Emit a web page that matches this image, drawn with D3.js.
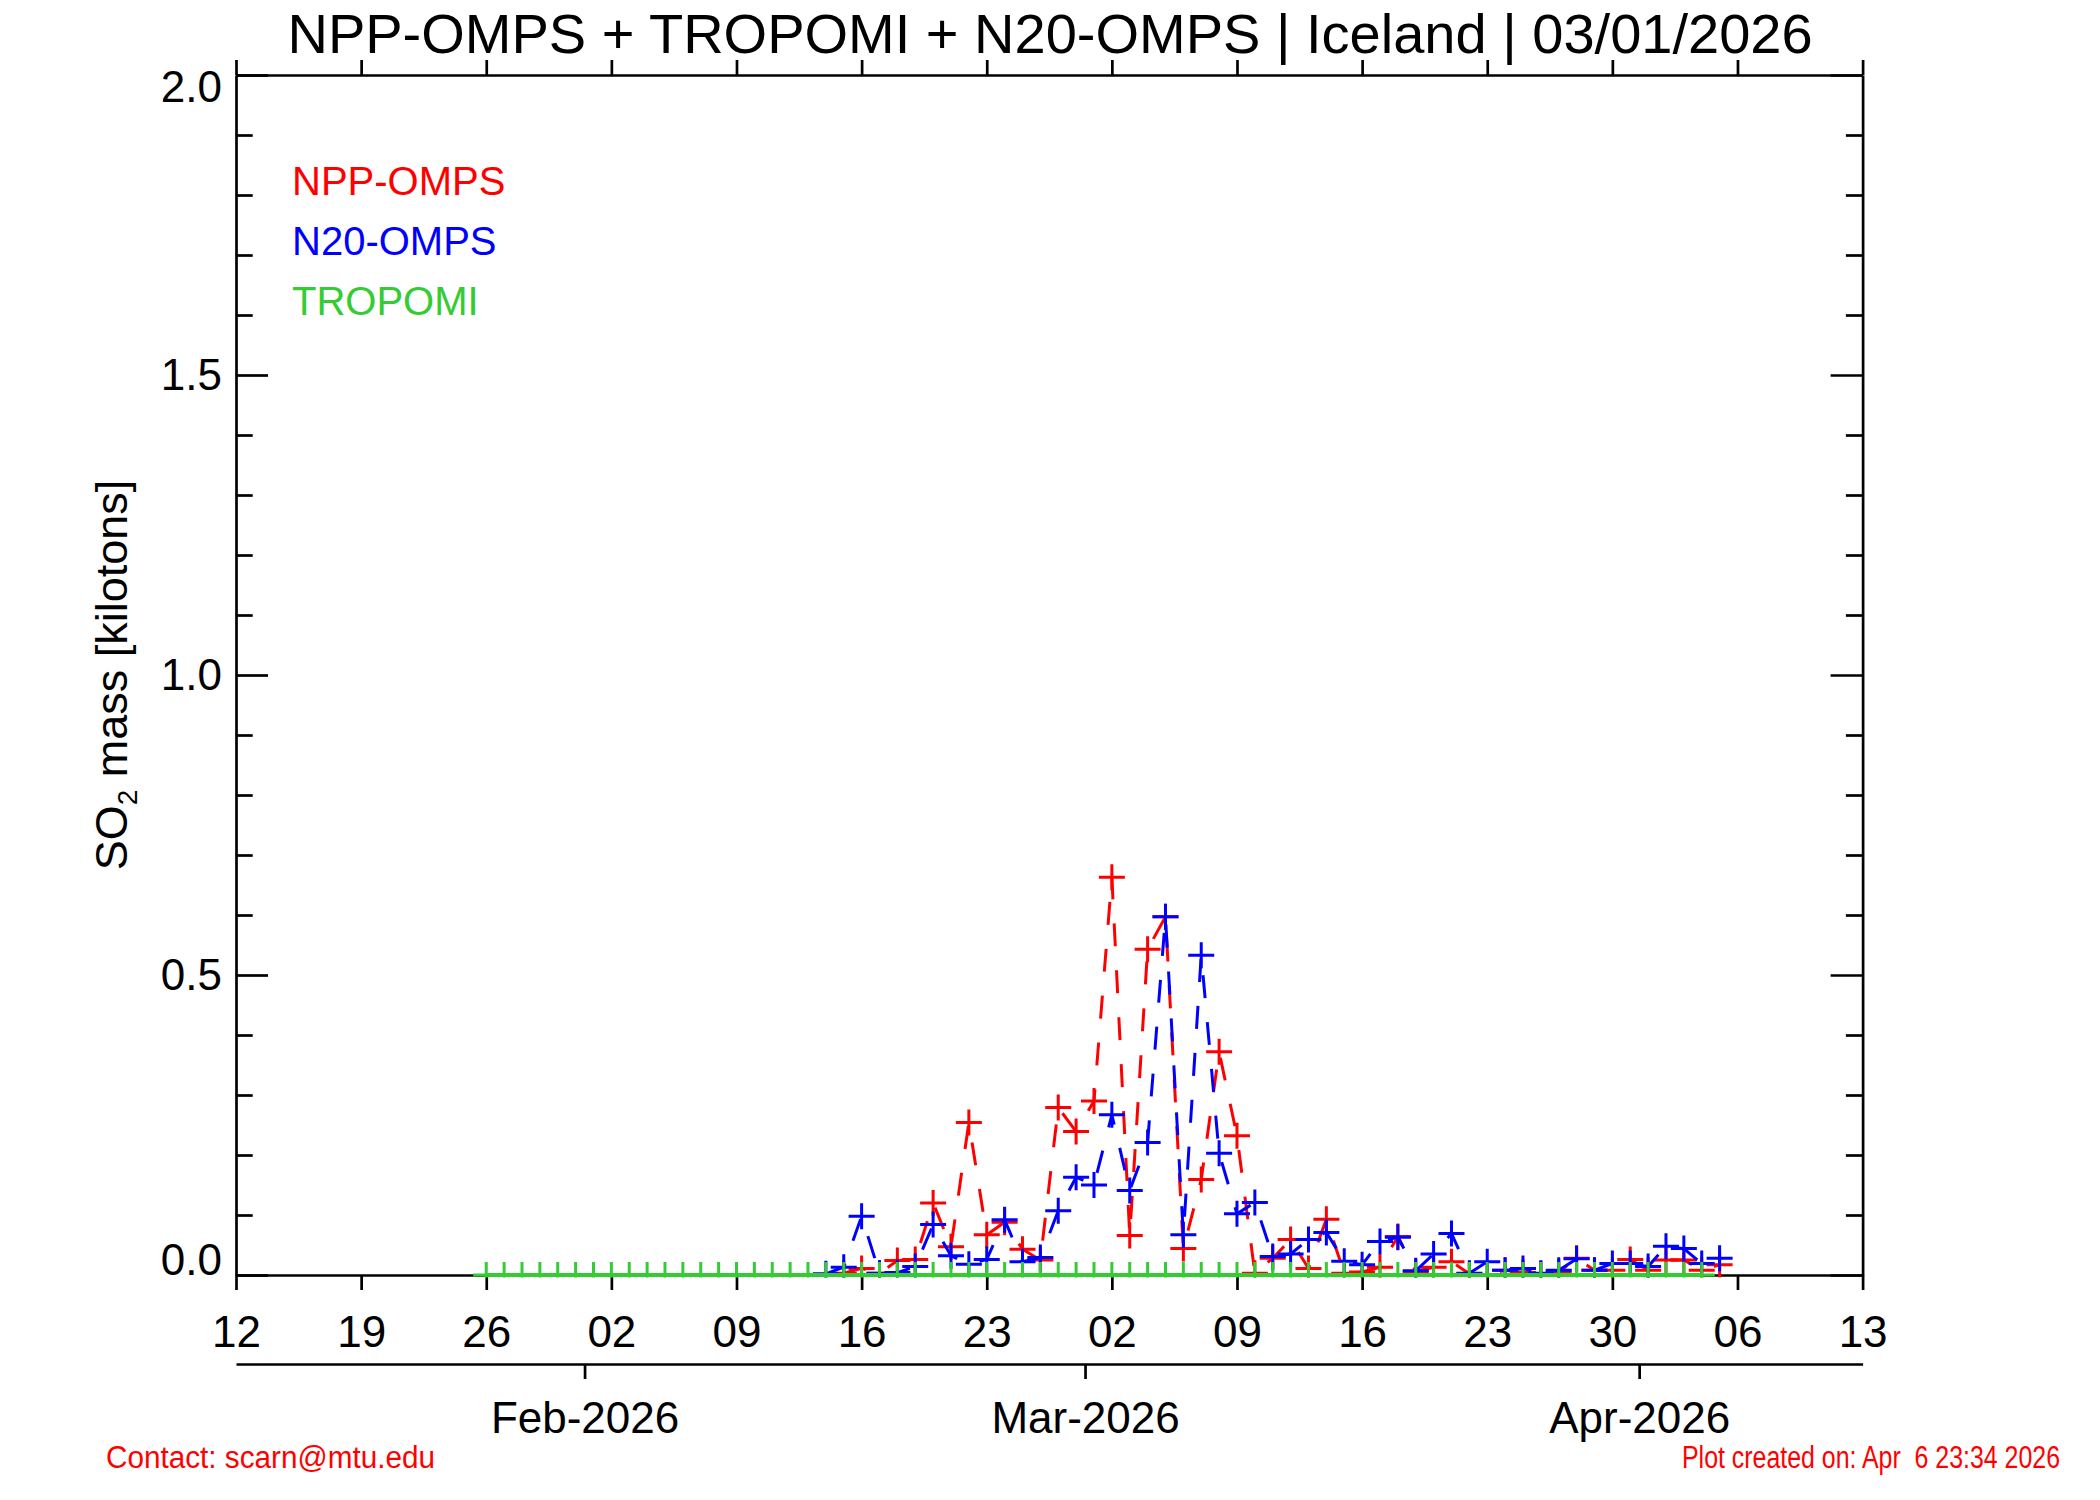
<!DOCTYPE html>
<html>
<head>
<meta charset="utf-8">
<script src="https://cdn.jsdelivr.net/npm/d3@7"></script>
<style>
  html, body { margin: 0; padding: 0; background: #ffffff; }
  svg { display: block; }
</style>
</head>
<body>
<script>
// ---------------- DATA ----------------
const titleText = "NPP-OMPS + TROPOMI + N20-OMPS | Iceland | 03/01/2026";
const yLabelMain = "SO";
const yLabelSub = "2";
const yLabelRest = " mass [kilotons]";
const contactText = "Contact: scarn@mtu.edu";
const createdText = "Plot created on: Apr\u00a0\u00a06 23:34 2026";

const xDomain = ["2026-01-12", "2026-04-13"];
const yDomain = [0, 2.0];
const yMajorTicks = [0.0, 0.5, 1.0, 1.5, 2.0];
const yMinorTicks = [0.1, 0.2, 0.3, 0.4, 0.6, 0.7, 0.8, 0.9, 1.1, 1.2, 1.3, 1.4, 1.6, 1.7, 1.8, 1.9];

const seriesNames = ["NPP-OMPS", "N20-OMPS", "TROPOMI"];
const seriesColors = ["#ff0000", "#0000ff", "#33cc33"];

// NPP-OMPS daily values starting 2026-02-15
const nppStart = "2026-02-15";
const nppValues = [
  0.003, 0.011, 0.003, 0.024, 0.026, 0.120, 0.047, 0.254, 0.067, 0.088, 0.043, 0.025, 0.279, 0.239,
  0.290, 0.663, 0.066, 0.543, 0.597, 0.044, 0.159, 0.372, 0.232, 0.003, 0.028, 0.059, 0.011, 0.093,
  0.003, 0.005, 0.013, 0.064, 0.006, 0.013, 0.022, 0.002, 0.000, 0.008, 0.004, 0.002, 0.005, 0.028,
  0.008, 0.008, 0.026,
  0.008, 0.025, 0.025, 0.008, 0.017
];

// N20-OMPS daily values starting 2026-02-14
const n20Start = "2026-02-14";
const n20Values = [
  0.002, 0.013, 0.098, 0.003, 0.004, 0.014, 0.084, 0.032, 0.018, 0.026, 0.092, 0.022, 0.029, 0.107, 0.163,
  0.150, 0.267, 0.141, 0.221, 0.597, 0.067, 0.533, 0.203, 0.102, 0.121, 0.031, 0.035, 0.059, 0.071,
  0.023, 0.017, 0.056, 0.063, 0.007, 0.035, 0.069, 0.003, 0.022, 0.008, 0.011, 0.003, 0.008, 0.027,
  0.008, 0.019, 0.019,
  0.014, 0.048, 0.044, 0.019, 0.028
];

// TROPOMI daily values starting 2026-01-26
const tropomiStart = "2026-01-26";
const tropomiValues = [
  0, 0, 0, 0, 0, 0, 0, 0, 0, 0, 0, 0, 0, 0, 0, 0, 0, 0, 0, 0,
  0, 0, 0, 0, 0, 0, 0, 0, 0, 0, 0, 0, 0, 0, 0, 0, 0, 0, 0, 0,
  0, 0, 0, 0, 0, 0, 0, 0, 0, 0, 0, 0, 0, 0, 0, 0, 0, 0, 0, 0,
  0, 0, 0, 0, 0, 0, 0, 0, 0
];

// ---------------- CHART ----------------
const W = 2100, H = 1500;
const plot = { left: 236, right: 1862.6, top: 75, bottom: 1275 };
const FONT = "'Liberation Sans', Arial, Helvetica, sans-serif";
const AXW = 2.7;

const parse = d3.utcParse("%Y-%m-%d");
const x = d3.scaleUtc().domain(xDomain.map(parse)).range([plot.left, plot.right]);
const y = d3.scaleLinear().domain(yDomain).range([plot.bottom, plot.top]);

const toSeries = (start, vals) => vals.map((v, i) => ({ date: d3.utcDay.offset(parse(start), i), value: v }));
const series = [
  { name: seriesNames[0], color: seriesColors[0], dashed: true, data: toSeries(nppStart, nppValues) },
  { name: seriesNames[1], color: seriesColors[1], dashed: true, data: toSeries(n20Start, n20Values) },
  { name: seriesNames[2], color: seriesColors[2], dashed: false, data: toSeries(tropomiStart, tropomiValues) }
];

const svg = d3.select("body").append("svg").attr("width", W).attr("height", H)
  .style("font-family", FONT);
svg.append("rect").attr("width", W).attr("height", H).attr("fill", "#fff");

// weekly ticks (Mondays) and month ticks
const d0 = x.domain()[0], d1 = x.domain()[1];
const weekTicks = d3.utcMonday.range(d0, d3.utcDay.offset(d1, 1));
const monthTicks = d3.utcMonth.range(d0, d1).map(d => d3.utcHour.offset(d, -12));

function styleAxis(g) {
  g.selectAll(".domain").attr("stroke", "#000").attr("stroke-width", AXW);
  g.selectAll(".tick line").attr("stroke", "#000").attr("stroke-width", AXW);
  g.selectAll("text").attr("fill", "#000").style("font-family", FONT).style("font-size", "44px");
}

// Top axis
svg.append("g").attr("transform", `translate(0,${plot.top})`)
  .call(d3.axisTop(x).tickValues(weekTicks).tickSize(15).tickSizeOuter(0).tickFormat(""))
  .call(styleAxis);

// Bottom axis (days)
svg.append("g").attr("transform", `translate(0,${plot.bottom})`)
  .call(d3.axisBottom(x).tickValues(weekTicks).tickSize(15).tickSizeOuter(0).tickPadding(26)
    .tickFormat(d3.utcFormat("%d")))
  .call(styleAxis);

// Month axis
svg.append("g").attr("transform", `translate(0,1364)`)
  .call(d3.axisBottom(x).tickValues(monthTicks).tickSize(15).tickSizeOuter(0).tickPadding(23)
    .tickFormat(d => d3.utcFormat("%b-%Y")(d3.utcHour.offset(d, 12))))
  .call(styleAxis);

// Left axis
const gl = svg.append("g").attr("transform", `translate(${plot.left},0)`)
  .call(d3.axisLeft(y).tickValues(yMajorTicks).tickSize(-32).tickSizeOuter(0).tickPadding(14)
    .tickFormat(d3.format(".1f")))
  .call(styleAxis);
gl.selectAll(".tick text").attr("y", d => d === 0 ? -15 : (d === 2 ? 12 : 0));
svg.append("g").attr("transform", `translate(${plot.left},0)`)
  .call(d3.axisLeft(y).tickValues(yMinorTicks).tickSize(-16.7).tickSizeOuter(0).tickFormat(""))
  .call(styleAxis).call(g => g.select(".domain").remove());

// Right axis
svg.append("g").attr("transform", `translate(${plot.right},0)`)
  .call(d3.axisRight(y).tickValues(yMajorTicks).tickSize(-32).tickSizeOuter(0).tickFormat(""))
  .call(styleAxis);
svg.append("g").attr("transform", `translate(${plot.right},0)`)
  .call(d3.axisRight(y).tickValues(yMinorTicks).tickSize(-16.7).tickSizeOuter(0).tickFormat(""))
  .call(styleAxis).call(g => g.select(".domain").remove());

// Title
svg.append("text").attr("x", 1050).attr("y", 53).attr("text-anchor", "middle")
  .style("font-size", "56px").attr("fill", "#000").text(titleText);

// Y axis label
const yl = svg.append("text").attr("transform", "translate(127,675) rotate(-90)")
  .attr("text-anchor", "middle").style("font-size", "45px").attr("fill", "#000");
yl.append("tspan").text(yLabelMain);
yl.append("tspan").attr("dy", 10).style("font-size", "28px").text(yLabelSub);
yl.append("tspan").attr("dy", -10).text(yLabelRest);

// Legend
seriesNames.forEach((n, i) => {
  svg.append("text").attr("x", 292).attr("y", 195 + i * 60)
    .style("font-size", "40px").attr("fill", seriesColors[i]).text(n);
});

// Clip
svg.append("defs").append("clipPath").attr("id", "plotclip")
  .append("rect").attr("x", plot.left).attr("y", plot.top)
  .attr("width", plot.right - plot.left).attr("height", plot.bottom - plot.top + 2.5);

const plotG = svg.append("g").attr("clip-path", "url(#plotclip)");
const line = d3.line().x(d => x(d.date)).y(d => y(d.value));

series.forEach(s => {
  const g = plotG.append("g");
  g.append("path").datum(s.data).attr("d", line)
    .attr("fill", "none").attr("stroke", s.color)
    .attr("stroke-width", s.dashed ? 3 : 4)
    .attr("stroke-dasharray", s.dashed ? "23,24" : null);
  g.selectAll("path.mk").data(s.data).join("path").attr("class", "mk")
    .attr("d", d => `M${x(d.date) - 13},${y(d.value)}H${x(d.date) + 13}M${x(d.date)},${y(d.value) - 13}V${y(d.value) + 13}`)
    .attr("fill", "none").attr("stroke", s.color).attr("stroke-width", 3);
});

// Footer
svg.append("text").attr("x", 106).attr("y", 1468).style("font-size", "31px")
  .attr("fill", "#ff0000").attr("textLength", 329).attr("lengthAdjust", "spacingAndGlyphs")
  .text(contactText);
svg.append("text").attr("x", 2060).attr("y", 1468).attr("text-anchor", "end").style("font-size", "31px")
  .attr("fill", "#ff0000").attr("textLength", 378).attr("lengthAdjust", "spacingAndGlyphs")
  .text(createdText);
</script>
</body>
</html>
